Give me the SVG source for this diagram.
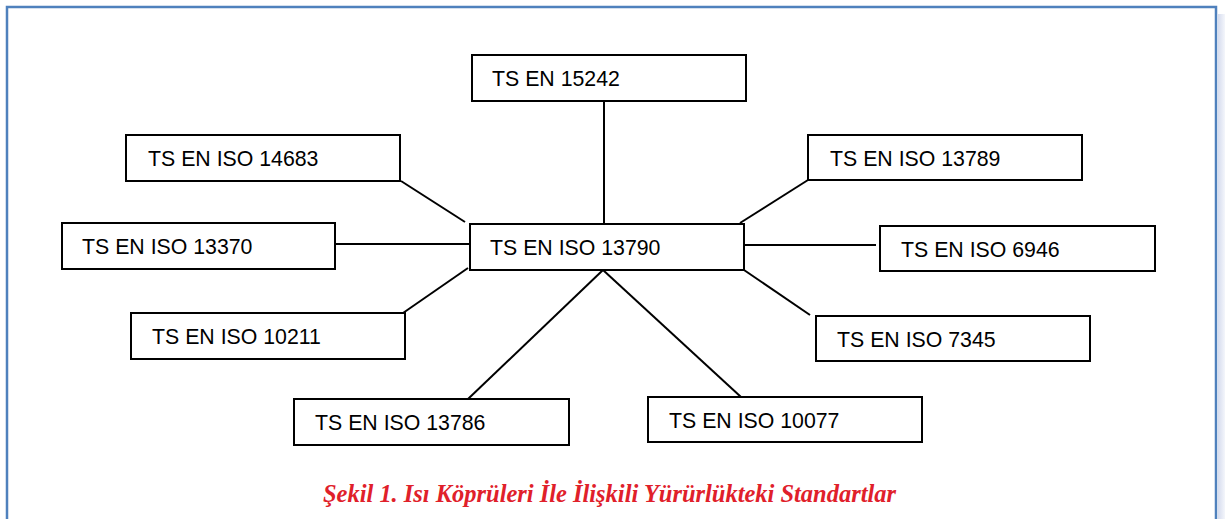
<svg xmlns="http://www.w3.org/2000/svg" width="1225" height="519" viewBox="0 0 1225 519">
<style>
.box{fill:#fff;stroke:#000;stroke-width:2}
.lbl{font-family:"Liberation Sans",Arial,sans-serif;font-size:21.3px;fill:#000}
.con line{stroke:#000;stroke-width:2}
.cap{font-family:"Liberation Serif","Times New Roman",serif;font-size:25px;font-style:italic;font-weight:bold;fill:#e0202a}
</style>
<defs>
<linearGradient id="sh" x1="0" x2="1" y1="0" y2="0">
<stop offset="0" stop-color="#d6dcee"/>
<stop offset="1" stop-color="#f4f6fb"/>
</linearGradient>
</defs>
<rect width="1225" height="519" fill="#fff"/>
<rect x="1218" y="14" width="7" height="505" fill="url(#sh)"/>
<path d="M7 519 V7 H1216 V519" fill="none" stroke="#4f81bd" stroke-width="2.5"/>
<g class="con">
<line x1="604" y1="101" x2="604" y2="224"/>
<line x1="401" y1="181" x2="465" y2="222"/>
<line x1="335" y1="244" x2="470" y2="244"/>
<line x1="403" y1="313" x2="468" y2="268"/>
<line x1="808" y1="180" x2="740" y2="223"/>
<line x1="744" y1="245" x2="876" y2="245"/>
<line x1="744" y1="270" x2="810" y2="315"/>
<line x1="603" y1="270" x2="468" y2="399"/>
<line x1="603" y1="270" x2="741" y2="397"/>
</g>
<g id="n15242"><rect class="box" x="472" y="55" width="274" height="46"/><text class="lbl" x="492" y="86">TS EN 15242</text></g>
<g id="n13790"><rect class="box" x="470" y="224" width="274" height="46"/><text class="lbl" x="490" y="255">TS EN ISO 13790</text></g>
<g id="n14683"><rect class="box" x="126" y="135" width="274" height="46"/><text class="lbl" x="148" y="166">TS EN ISO 14683</text></g>
<g id="n13370"><rect class="box" x="62" y="223" width="273" height="46"/><text class="lbl" x="82" y="254">TS EN ISO 13370</text></g>
<g id="n10211"><rect class="box" x="131" y="313" width="274" height="46"/><text class="lbl" x="152" y="344">TS EN ISO 10211</text></g>
<g id="n13789"><rect class="box" x="808" y="135" width="274" height="45"/><text class="lbl" x="830" y="166">TS EN ISO 13789</text></g>
<g id="n6946"><rect class="box" x="880" y="226" width="275" height="45"/><text class="lbl" x="901" y="257">TS EN ISO 6946</text></g>
<g id="n7345"><rect class="box" x="816" y="316" width="274" height="45"/><text class="lbl" x="837" y="347">TS EN ISO 7345</text></g>
<g id="n13786"><rect class="box" x="294" y="399" width="275" height="46"/><text class="lbl" x="315" y="430">TS EN ISO 13786</text></g>
<g id="n10077"><rect class="box" x="648" y="397" width="274" height="45"/><text class="lbl" x="669" y="428">TS EN ISO 10077</text></g>
<text class="cap" x="323" y="502" textLength="573" lengthAdjust="spacingAndGlyphs">Şekil 1. Isı Köprüleri İle İlişkili Yürürlükteki Standartlar</text>
</svg>
